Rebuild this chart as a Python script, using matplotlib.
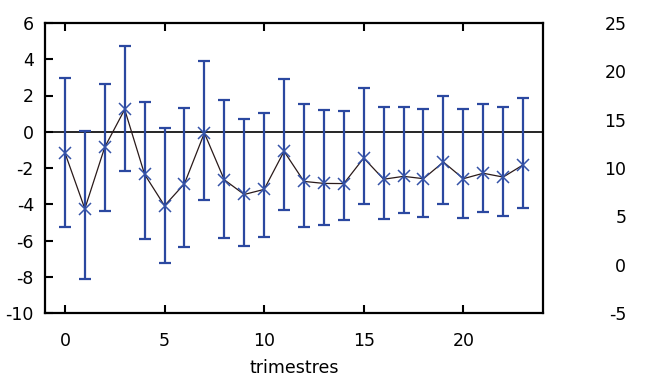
import numpy as np
import matplotlib
matplotlib.use("Agg")
import matplotlib.pyplot as plt

plt.rcParams["axes.unicode_minus"] = False


# ---------------------------------------
# Values (one per quarter)
trimestres = np.arange(24)
valeur = [-1.16, -4.25, -0.85, 1.23, -2.35, -4.08, -2.87, -0.07, -2.65, -3.46,
          -3.18, -1.08, -2.74, -2.85, -2.86, -1.45, -2.62, -2.46, -2.59, -1.67,
          -2.59, -2.29, -2.50, -1.83]
haut = [2.98, 0.02, 2.61, 4.71, 1.65, 0.18, 1.31, 3.88, 1.75, 0.70,
        1.05, 2.90, 1.54, 1.18, 1.17, 2.39, 1.36, 1.34, 1.27, 2.00,
        1.25, 1.54, 1.34, 1.87]
bas = [-5.26, -8.10, -4.36, -2.17, -5.92, -7.26, -6.36, -3.77, -5.88, -6.29,
       -5.81, -4.30, -5.28, -5.12, -4.88, -4.00, -4.83, -4.51, -4.68, -4.00,
       -4.77, -4.42, -4.66, -4.22]

y_ticks = np.arange(-10, 7, 2)
y2_ticks = np.arange(-5, 26, 5)
x_ticks = np.arange(0, 21, 5)

valeur = np.array(valeur)
err = np.vstack([valeur - np.array(bas), np.array(haut) - valeur])

bleu = "#2b48a0"
fs = 12.5


# -------------
# Plot
fig = plt.figure(figsize=(6.5, 3.78), dpi=100)
ax = fig.add_axes([45/650, 65/378, 498/650, 290/378])

ax.axhline(0, color="black", lw=1.2, zorder=1)
ax.plot(trimestres, valeur, color="#2a1a1a", lw=0.9, zorder=2)
ax.errorbar(trimestres, valeur, yerr=err, fmt="none", ecolor=bleu,
            elinewidth=1.6, capsize=4, capthick=1.6, zorder=3)
ax.plot(trimestres, valeur, ls="none", marker="x", ms=9, mew=1.1,
        color="#3553a8", zorder=4)

ax.set_xlim(-1, 24)
ax.set_ylim(-10, 6)
ax.set_xticks(x_ticks)
ax.set_yticks(y_ticks)
ax.tick_params(direction="in", length=6, width=1.5, top=True, right=True,
               labelsize=fs)
ax.tick_params(axis="x", pad=14)
ax.tick_params(axis="y", pad=8)
for s in ax.spines.values():
    s.set_linewidth(1.6)

ax2 = ax.twinx()
ax2.set_ylim(-5, 25)
ax2.set_yticks(y2_ticks)
ax2.tick_params(length=0, labelsize=fs, pad=60)
for lab in ax2.get_yticklabels():
    lab.set_horizontalalignment("right")
for s in ax2.spines.values():
    s.set_visible(False)

# x label sits low, as in the original
fig.text(294/650, 1 - 359/378, "trimestres", ha="center", va="top", fontsize=fs)

fig.savefig("out.png", dpi=100)
